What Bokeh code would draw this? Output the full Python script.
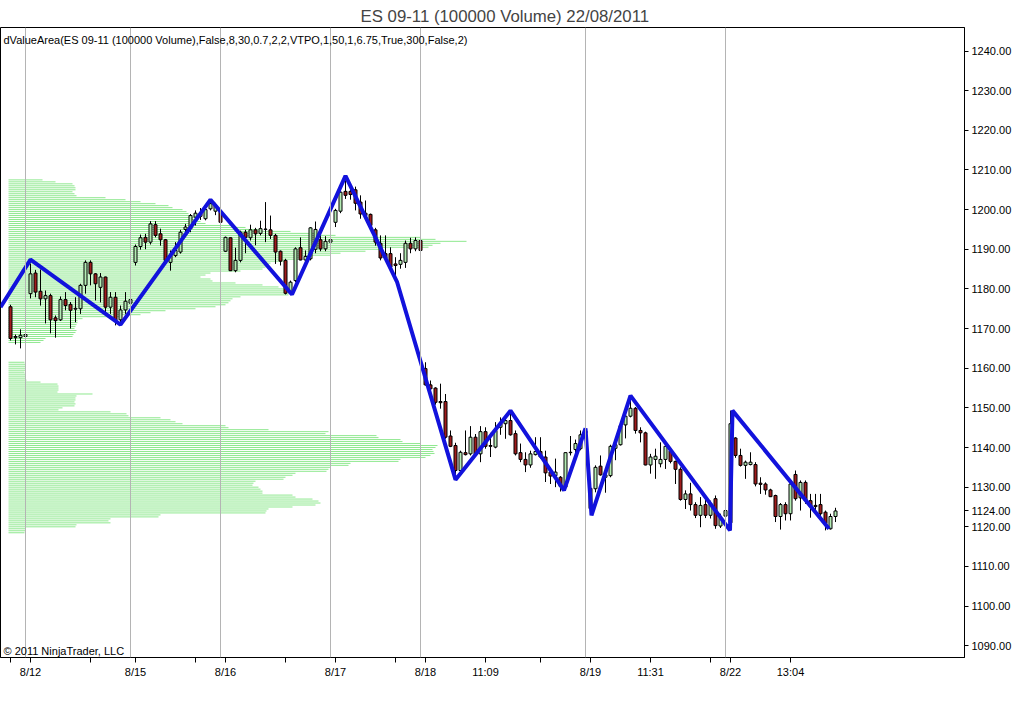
from bokeh.plotting import figure
from bokeh.models import Range1d, FixedTicker, Span, Label, NumeralTickFormatter
from bokeh.embed import file_html
from bokeh.resources import INLINE

FONT = "Liberation Sans"
TITLE = "ES 09-11 (100000 Volume)  22/08/2011"
INDICATOR = "dValueArea(ES 09-11 (100000 Volume),False,8,30,0.7,2,2,VTPO,1,50,1,6.75,True,300,False,2)"
COPYRIGHT = "\u00a9 2011 NinjaTrader, LLC"

# ---- OHLC of each 100000-volume bar (bar index = position) ----
opens = [1175.5,1167.7,1167.7,1168.0,1178.8,1184.0,1179.4,1177.5,1178.3,1172.7,
         1172.2,1177.3,1176.1,1174.9,1175.0,1180.9,1186.7,1183.8,1180.4,1183.0,
         1175.4,1177.9,1172.2,1174.7,1176.4,1186.7,1190.7,1193.0,1191.8,1196.2,
         1193.9,1192.4,1186.7,1188.4,1189.3,1195.0,1195.2,1198.1,1198.3,1197.7,
         1200.2,1199.6,1199.6,1189.5,1192.9,1184.6,1187.2,1194.3,1192.9,1194.9,
         1194.0,1195.0,1194.9,1193.5,1189.5,1187.2,1178.9,1182.1,1190.4,1187.3,
         1187.6,1190.0,1192.4,1190.1,1191.8,1196.8,1199.6,1204.6,1204.6,1205.0,
         1201.9,1199.1,1198.8,1194.9,1191.5,1188.9,1188.9,1186.3,1186.2,1186.7,
         1191.5,1190.1,1192.2,1159.9,1155.8,1155.0,1151.6,1151.6,1142.9,1140.5,
         1134.2,1138.7,1138.4,1142.6,1138.4,1144.0,1140.5,1140.1,1145.1,1146.0,
         1146.8,1143.5,1138.7,1137.0,1135.6,1138.2,1139.0,1137.6,1133.8,1132.9,
         1132.5,1130.0,1138.7,1139.5,1139.7,1143.6,1129.7,1129.6,1135.3,1132.5,
         1132.9,1139.8,1140.7,1145.7,1147.9,1149.9,1144.3,1143.7,1135.6,1137.0,
         1135.9,1137.0,1139.2,1136.5,1134.5,1126.9,1128.3,1125.6,1122.9,1125.6,
         1122.9,1127.1,1120.2,1122.7,1121.0,1142.4,1138.0,1135.5,1135.7,1135.7,
         1131.0,1130.8,1129.3,1127.9,1122.6,1125.6,1123.3,1133.2,1127.3,1131.2,
         1126.6,1125.4,1125.6,1123.7,1119.5,1122.6]
highs = [1176.0,1168.5,1169.8,1169.8,1186.4,1184.8,1184.9,1179.6,1178.8,1173.3,
         1178.1,1179.2,1176.7,1177.9,1181.3,1187.2,1187.2,1184.0,1184.0,1183.1,
         1179.2,1179.2,1175.8,1179.2,1180.9,1191.2,1193.7,1193.9,1197.1,1197.1,
         1195.2,1192.6,1189.7,1191.8,1194.9,1196.4,1198.9,1199.8,1200.4,1200.5,
         1202.5,1201.7,1200.2,1193.2,1193.0,1190.4,1194.7,1194.9,1196.2,1195.4,
         1197.2,1201.9,1198.5,1193.9,1189.7,1187.6,1182.1,1190.5,1193.0,1189.7,
         1195.6,1197.0,1193.5,1193.3,1193.5,1200.2,1204.6,1208.5,1206.3,1205.8,
         1203.6,1202.3,1199.0,1195.4,1193.5,1193.5,1190.5,1188.0,1189.0,1192.2,
         1192.9,1193.0,1193.0,1161.5,1156.9,1155.2,1156.1,1153.5,1144.3,1141.2,
         1139.2,1144.3,1145.4,1143.4,1145.4,1145.1,1143.7,1146.4,1147.6,1148.1,
         1149.3,1144.3,1141.0,1138.8,1139.2,1142.6,1142.6,1139.2,1135.0,1137.2,
         1132.8,1138.8,1142.9,1142.0,1144.3,1144.8,1130.4,1135.5,1138.0,1134.2,
         1140.7,1141.8,1146.4,1148.5,1153.1,1150.2,1145.1,1144.0,1138.4,1139.7,
         1141.3,1140.7,1139.8,1136.7,1135.0,1129.2,1131.1,1126.2,1127.5,1127.9,
         1126.6,1127.9,1123.3,1126.4,1149.3,1142.6,1139.7,1136.7,1138.8,1136.3,
         1132.5,1131.2,1129.6,1128.1,1126.0,1126.2,1131.2,1134.2,1131.7,1131.7,
         1128.3,1128.3,1128.3,1124.1,1123.3,1124.8]
lows = [1167.0,1166.0,1165.0,1167.0,1177.6,1177.9,1175.8,1171.3,1168.8,1167.7,
        1171.9,1174.6,1170.0,1171.6,1173.7,1178.8,1180.9,1177.1,1176.6,1174.1,
        1173.7,1170.8,1170.8,1173.7,1175.0,1185.9,1189.9,1190.0,1191.2,1193.0,
        1190.9,1186.7,1184.6,1188.0,1188.9,1194.3,1194.3,1196.0,1197.4,1197.3,
        1199.8,1198.6,1194.9,1189.3,1184.5,1184.2,1186.7,1189.0,1192.2,1191.0,
        1193.5,1191.8,1192.6,1186.3,1185.9,1178.6,1178.5,1181.7,1187.2,1185.5,
        1187.2,1189.0,1189.5,1189.5,1191.3,1195.6,1199.1,1202.7,1202.5,1199.8,
        1197.7,1198.1,1195.6,1190.9,1187.2,1187.0,1184.6,1183.1,1185.1,1185.3,
        1189.0,1189.5,1189.3,1155.6,1154.4,1150.8,1149.8,1142.2,1140.1,1132.0,
        1133.9,1138.0,1138.0,1138.0,1136.3,1139.7,1137.6,1139.8,1143.2,1142.2,
        1143.0,1138.0,1136.3,1133.8,1134.9,1138.0,1137.2,1131.3,1130.8,1130.0,
        1128.9,1129.2,1138.0,1138.6,1139.3,1143.2,1123.0,1128.7,1132.9,1128.6,
        1132.5,1136.8,1140.5,1142.3,1147.6,1143.5,1141.3,1135.5,1133.4,1132.1,
        1135.0,1134.6,1136.0,1130.8,1126.6,1124.5,1124.1,1122.2,1119.9,1122.2,
        1122.1,1119.5,1119.7,1122.0,1119.1,1137.4,1135.2,1132.1,1135.5,1130.2,
        1128.3,1128.1,1127.5,1121.2,1119.3,1121.6,1121.6,1126.6,1124.1,1125.8,
        1122.3,1124.1,1122.6,1119.1,1119.3,1121.2]
closes = [1167.5,1168.0,1168.3,1168.5,1183.8,1179.2,1177.5,1178.3,1172.2,1172.0,
          1177.3,1175.8,1174.6,1175.1,1180.9,1186.7,1183.8,1181.3,1183.0,1175.4,
          1177.9,1172.0,1174.7,1176.9,1177.3,1190.7,1192.9,1191.8,1196.4,1193.5,
          1192.4,1187.2,1188.4,1189.7,1194.3,1195.6,1198.5,1199.1,1198.9,1200.0,
          1201.5,1201.0,1196.8,1193.0,1184.6,1187.2,1194.3,1193.0,1194.9,1193.9,
          1195.2,1195.1,1193.5,1189.3,1187.0,1178.9,1181.7,1190.1,1187.3,1188.2,
          1195.4,1195.0,1190.1,1192.0,1192.4,1199.8,1204.4,1203.6,1203.8,1201.6,
          1198.9,1198.5,1196.0,1191.8,1187.8,1187.8,1185.5,1185.9,1187.2,1191.5,
          1190.1,1192.2,1189.7,1155.8,1154.8,1151.4,1151.3,1142.6,1140.3,1134.2,
          1138.8,1138.2,1142.6,1138.4,1144.0,1140.3,1140.3,1144.3,1146.0,1146.8,
          1143.2,1138.4,1137.0,1135.6,1138.4,1139.0,1137.6,1133.6,1132.8,1133.8,
          1130.2,1138.7,1138.8,1141.0,1143.2,1144.2,1124.6,1135.0,1133.1,1133.1,
          1140.3,1140.7,1145.5,1147.9,1149.9,1144.3,1143.7,1135.6,1137.6,1137.8,
          1137.0,1140.3,1136.5,1134.5,1126.9,1128.3,1125.6,1122.9,1125.4,1122.9,
          1125.8,1120.3,1122.2,1124.1,1146.0,1138.0,1135.5,1136.3,1136.3,1130.8,
          1130.7,1129.3,1127.6,1122.6,1125.6,1123.3,1130.8,1127.1,1131.2,1126.6,
          1125.1,1125.1,1123.3,1120.8,1122.6,1124.0]

# ---- zigzag swing points (bar position, price) ----
zz_bar = [-2, 4, 22, 40, 56.3, 67, 77.3, 89, 100, 110.7, 115, 116.2, 124, 143.9, 144.4, 163.7]
zz_price = [1175.4, 1187.4, 1171.0, 1202.5, 1178.6, 1208.5, 1181.8, 1131.9, 1149.3,
            1129.2, 1144.8, 1122.9, 1153.1, 1119.1, 1149.3, 1119.5]

# ---- value-area volume profiles (volume per 0.5-point price level, top down) ----
upper_top_price = 1207.5
upper_volume = [34,47,64,66,67,67,64,66,68,97,117,132,147,160,164,174,178,180,184,187,
                190,192,197,222,237,250,282,312,327,412,427,458,432,424,420,372,357,332,322,292,
                290,277,262,260,257,254,232,202,197,192,202,204,227,254,270,277,284,285,280,232,
                224,222,220,217,207,187,157,142,132,112,74,69,69,68,67,66,68,67,65,64,
                37,35,32]
lower_top_price = 1161.5
lower_volume = [16,17,17,17,17,16,17,17,17,18,32,49,50,50,50,49,84,68,67,67,
                66,67,66,54,50,102,118,120,152,162,167,174,217,220,260,320,317,368,370,392,
                394,412,429,427,424,425,426,422,417,392,390,342,340,322,320,318,287,284,277,275,
                247,245,244,250,252,254,254,284,287,304,310,312,307,284,260,258,257,152,150,102,
                100,102,68,67,17,17,16]
profile_step = 0.5

# ---- sessions / axis labels ----
tick_labels = ["8/12", "8/15", "8/16", "8/17", "8/18", "11:09", "8/19", "11:31", "8/22", "13:04"]
tick_bars = [4, 25, 43, 65, 83, 95, 116, 128, 144, 156]
session_break_bars = [3, 24, 42, 64, 82, 115, 143]
extra_tick_bars = [0, 16, 37, 55, 77, 106, 140]
price_ticks = [1090, 1100, 1110, 1120, 1130, 1140, 1150, 1160, 1170, 1180, 1190, 1200,
               1210, 1220, 1230, 1240]
last_price = 1124.00

# ---------------------------------------------------------------
X0, X1 = -2, 190.8
Y0, Y1 = 1087.04, 1245.93
p = figure(width=1016, height=695, output_backend="svg", toolbar_location=None,
           x_range=Range1d(X0, X1), y_range=Range1d(Y0, Y1),
           y_axis_location="right", min_border_left=0, min_border_right=52,
           min_border_top=27, min_border_bottom=38, title=TITLE)
p.title.text_font = FONT
p.title.text_font_size = "16.8px"
p.title.text_font_style = "normal"
p.title.align = "left"
p.title.offset = 360
p.title.standoff = 4
p.title.vertical_align = "bottom"
p.xgrid.visible = False
p.ygrid.visible = False
p.outline_line_color = "black"
p.outline_line_alpha = 1
p.background_fill_color = "white"
p.border_fill_color = "white"

for b in session_break_bars:
    p.add_layout(Span(location=b, dimension="height", line_color="#b4b4b4", line_width=1))

# profiles
PROFILE_START = -0.4
VOL_TO_BARS = 0.2
for top, vols in ((upper_top_price, upper_volume), (lower_top_price, lower_volume)):
    levels = [top - k * profile_step for k in range(len(vols))]
    x1 = [PROFILE_START + v * VOL_TO_BARS for v in vols]
    p.segment(x0=[PROFILE_START] * len(vols), y0=levels, x1=x1, y1=levels,
              line_color="#8fe88f", line_width=1)

# candles
n = len(opens)
bars = list(range(n))
up = [c >= o for o, c in zip(opens, closes)]
p.segment(x0=bars, y0=lows, x1=bars, y1=highs, line_color="black", line_width=1)
p.vbar(x=bars, width=0.6,
       top=[max(o, c) for o, c in zip(opens, closes)],
       bottom=[min(o, c) for o, c in zip(opens, closes)],
       fill_color=["#b4ecb4" if u else "#a01c1c" for u in up],
       line_color="black", line_width=1)

# zigzag
p.line(zz_bar, zz_price, line_color="#1212dc", line_width=4)

# axes
ya = p.yaxis[0]
ya.ticker = FixedTicker(ticks=price_ticks + [last_price])
ya.formatter = NumeralTickFormatter(format="0.00")
ya.major_label_overrides = {last_price: "%.2f" % last_price}
ya.major_label_text_font = FONT
ya.major_label_text_font_size = "11px"
ya.major_label_text_color = "black"
ya.major_tick_in = 0
ya.major_tick_out = 4
ya.minor_tick_line_color = None
ya.axis_line_color = "black"
ya.major_label_standoff = 3

xa = p.xaxis[0]
xa.ticker = FixedTicker(ticks=tick_bars + extra_tick_bars)
overrides = {b: t for b, t in zip(tick_bars, tick_labels)}
overrides.update({b: "" for b in extra_tick_bars})
xa.major_label_overrides = overrides
xa.major_label_text_font = FONT
xa.major_label_text_font_size = "11px"
xa.major_label_text_color = "black"
xa.major_tick_in = 0
xa.major_tick_out = 5
xa.minor_tick_line_color = None
xa.axis_line_color = "black"
xa.major_label_standoff = 3

# texts
p.add_layout(Label(x=X0, y=1242.9, x_offset=3, text=INDICATOR, text_font=FONT,
                   text_font_size="11px", text_baseline="middle", text_color="black"))
p.add_layout(Label(x=X0, y=1088.6, x_offset=3, text=COPYRIGHT, text_font=FONT,
                   text_font_size="11px", text_baseline="middle", text_color="black"))

open("out.html", "w").write(file_html(p, INLINE))
